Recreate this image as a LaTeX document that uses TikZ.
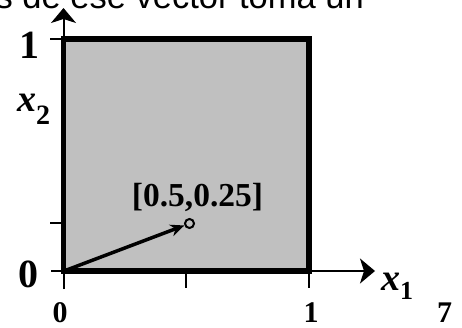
\documentclass[tikz,border=0pt]{standalone}
\usepackage{fontspec}
\setmainfont{Liberation Serif}
\newfontfamily\arialfont{Liberation Sans}
\usetikzlibrary{arrows.meta}
\definecolor{boxgray}{RGB}{192,192,192}
\begin{document}
\begin{tikzpicture}[x=1pt,y=-1pt,
  axisline/.style={line width=2pt, -{Stealth[length=15pt,width=25pt,inset=4pt]}},
  tickline/.style={line width=2pt},
  biglbl/.style={inner sep=0pt, font=\fontsize{40}{40}\selectfont\bfseries},
  smalllbl/.style={inner sep=0pt, font=\fontsize{30}{30}\selectfont\bfseries},
]
\useasboundingbox (0,0) rectangle (462,328);
\clip (0,0) rectangle (462,328);
% top text (cut off)
\node[inner sep=0pt, anchor=base east, font=\arialfont\fontsize{34.5}{34.5}\selectfont] (toptext) at (364,8.5) {s de ese vector toma un};
% square
\node[draw, line width=5.5pt, fill=boxgray, minimum width=245.5pt, minimum height=232pt, inner sep=0pt] (sq) at (186.25,155) {};
% axes
\coordinate (ybot) at (63.5,289);
\coordinate (ytop) at (63.5,8);
\coordinate (xleft) at (51,271);
\coordinate (xright) at (375,271);
\draw[axisline] (ybot) -- (ytop);
\draw[axisline] (xleft) -- (xright);
% ticks
\coordinate (ty1a) at (50,39);   \coordinate (ty1b) at (63.5,39);
\coordinate (ty2a) at (50,223);  \coordinate (ty2b) at (63.5,223);
\coordinate (tx1a) at (186,271); \coordinate (tx1b) at (186,288);
\coordinate (tx2a) at (309,271); \coordinate (tx2b) at (309,288);
\draw[tickline] (ty1a) -- (ty1b);
\draw[tickline] (ty2a) -- (ty2b);
\draw[tickline] (tx1a) -- (tx1b);
\draw[tickline] (tx2a) -- (tx2b);
% vector
\coordinate (o) at (64,271);
\node[draw, circle, line width=2pt, minimum size=9pt, inner sep=0pt] (v) at (189.5,223.5) {};
\draw[line width=3.5pt, -{Stealth[length=14pt,width=12pt]}] (o) -- (v);
\node[inner sep=0pt, anchor=base, font=\fontsize{33.5}{33.5}\selectfont\bfseries] (vlbl) at (197.5,207) {[0.5,0.25]};
% labels
\node[biglbl] (one) at (29,45) {1};
\node[biglbl] (zero) at (28,274) {0};
\node[inner sep=0pt, anchor=base west, font=\fontsize{38}{38}\selectfont\bfseries\itshape] (x2) at (17,112) {x\raisebox{-13pt}{\fontsize{28}{28}\selectfont\upshape 2}};
\node[inner sep=0pt, anchor=base west, font=\fontsize{38}{38}\selectfont\bfseries\itshape] (x1) at (381,290) {x\raisebox{-9pt}{\fontsize{26}{26}\selectfont\upshape 1}};
\node[smalllbl, anchor=base] (b0) at (60,322) {0};
\node[smalllbl, anchor=base] (b1) at (311,322) {1};
\node[smalllbl, anchor=base] (b7) at (444.5,322) {7};
\end{tikzpicture}
\end{document}
